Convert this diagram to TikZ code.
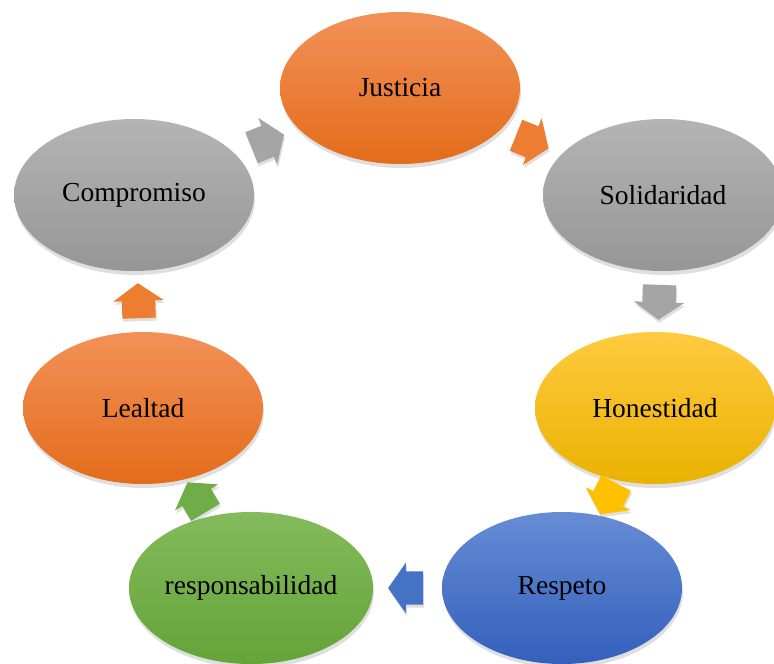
\documentclass[tikz,border=0pt]{standalone}
\usepackage{fontspec}
\setmainfont{Liberation Serif}
\usetikzlibrary{shapes.geometric,shapes.arrows,shadows,calc}
\definecolor{orangei}{RGB}{237,125,49}
\definecolor{grayi}{RGB}{165,165,165}
\definecolor{yellowi}{RGB}{255,192,0}
\definecolor{bluei}{RGB}{68,114,196}
\definecolor{greeni}{RGB}{112,173,71}
\tikzset{
          valor/.style={
            ellipse,
            minimum width=240pt,
            minimum height=152pt,
            inner sep=0pt,
            font=\fontsize{27.5}{33}\selectfont,
            drop shadow={opacity=0.25,shadow xshift=1pt,shadow yshift=-4pt}
          },
          naranja/.style={valor,top color={rgb,255:red,242;green,145;blue,88},bottom color={rgb,255:red,228;green,108;blue,26}},
          gris/.style={valor,top color={rgb,255:red,180;green,180;blue,180},bottom color={rgb,255:red,150;green,150;blue,150}},
          amarillo/.style={valor,top color={rgb,255:red,255;green,202;blue,64},bottom color={rgb,255:red,234;green,178;blue,0}},
          azul/.style={valor,top color={rgb,255:red,102;green,140;blue,212},bottom color={rgb,255:red,52;green,96;blue,188}},
          verde/.style={valor,top color={rgb,255:red,132;green,186;blue,92},bottom color={rgb,255:red,100;green,164;blue,56}},
          flecha/.style={
            single arrow,
            single arrow head extend=8.5pt,
            single arrow tip angle=110,
            minimum height=35pt,
            inner sep=0pt,
            draw=none,
            drop shadow={opacity=0.25,shadow xshift=1pt,shadow yshift=-3pt}
          }
        }
\newcommand\Flecha[4]{%
          \node[flecha,fill=#3,rotate=#4,xshift=-5pt] (f#1)
          at ($(#1)!0.5!(#2)$) {\rule{0pt}{33pt}};
        }

\begin{document}
\begin{tikzpicture}[x=1pt,y=-1pt]
            \useasboundingbox[fill=white] (0,0) rectangle (774,664);

            \node[naranja] (just) at (400,88) {Justicia};
            \node[gris] (soli) at (663,195) {Solidaridad};
            \node[amarillo] (hone) at (655,408) {Honestidad};
            \node[azul] (resp) at (562,588) {Respeto};
            \node[verde] (resb) at (251,588) {responsabilidad};
            \node[naranja] (leal) at (143,408) {Lealtad};
            \node[gris] (comp) at (134,195) {Compromiso};

            \Flecha{comp}{just}{grayi}{22}
            \Flecha{just}{soli}{orangei}{-22}
            \Flecha{soli}{hone}{grayi}{-92}
            \Flecha{hone}{resp}{yellowi}{-117}
            \Flecha{resp}{resb}{bluei}{180}
            \Flecha{resb}{leal}{greeni}{121}
            \Flecha{leal}{comp}{orangei}{92}

          \end{tikzpicture}
\end{document}
